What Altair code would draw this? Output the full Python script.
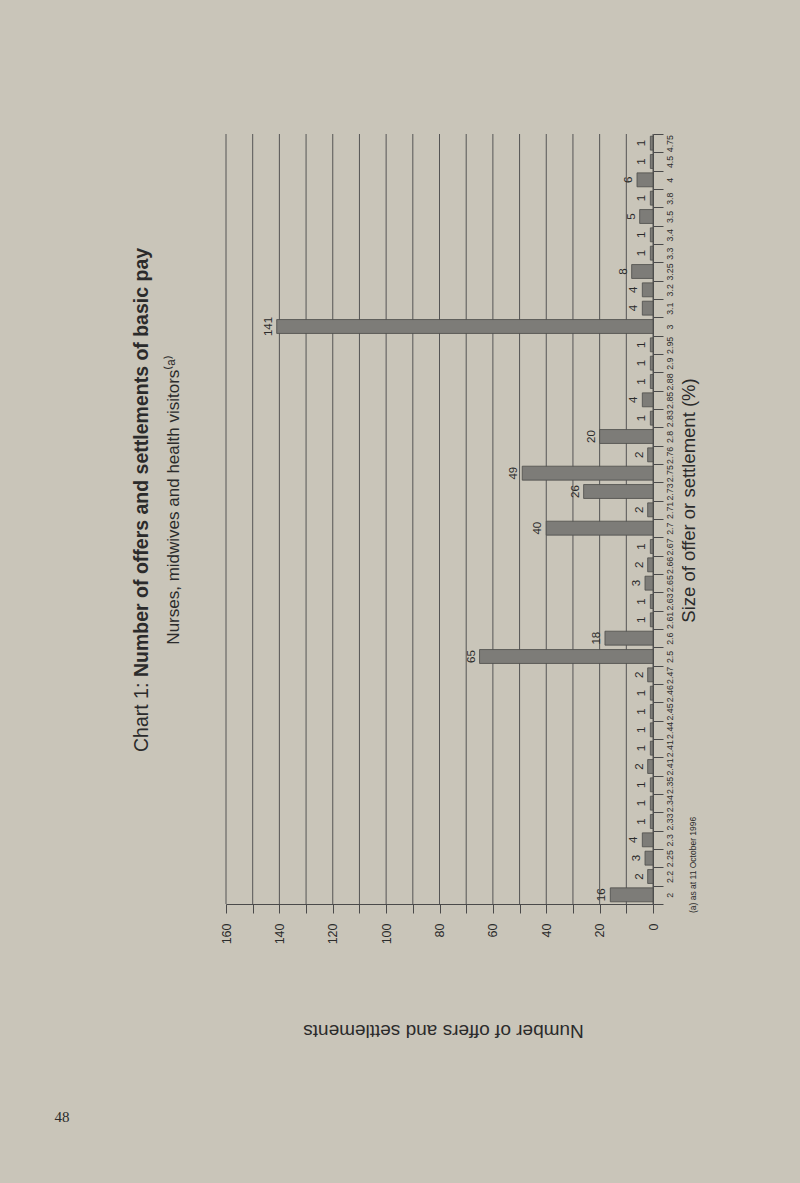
import altair as alt
import pandas as pd

# ---- data ----
categories = ["2", "2.2", "2.25", "2.3", "2.33", "2.34", "2.35", "2.41", "2.41", "2.44",
              "2.45", "2.46", "2.47", "2.5", "2.6", "2.61", "2.63", "2.65", "2.66", "2.67",
              "2.7", "2.71", "2.73", "2.75", "2.76", "2.8", "2.83", "2.85", "2.88", "2.9",
              "2.95", "3", "3.1", "3.2", "3.25", "3.3", "3.4", "3.5", "3.8", "4",
              "4.5", "4.75"]
counts = [16, 2, 3, 4, 1, 1, 1, 2, 1, 1,
          1, 1, 2, 65, 18, 1, 1, 3, 2, 1,
          40, 2, 26, 49, 2, 20, 1, 4, 1, 1,
          1, 141, 4, 4, 8, 1, 1, 5, 1, 6,
          1, 1]
value_ticks = list(range(0, 161, 10))
title_lead = ["Chart 1:"]
title_main = ["Number of offers and settlements of basic pay"]
subtitle = ["Nurses, midwives and health visitors\u207d\u1d43\u207e"]
footnote = ["(a) as at 11 October 1996"]
page_number = ["48"]
x_title = "Number of offers and settlements"
y_title = "Size of offer or settlement (%)"

df = pd.DataFrame({"idx": list(range(len(categories))), "label": categories, "count": counts})
grid_df = pd.DataFrame({"count": value_ticks})

SANS = "Liberation Sans, Arial, sans-serif"
INK = "#2b2b2b"
LINE = "#4a4a4a"
label_expr = "[" + ",".join("'" + c + "'" for c in categories) + "][datum.value]"

W, H = 427, 770

x_scale = alt.Scale(domain=[0, 160], reverse=True, nice=False)
x_axis = alt.Axis(
    orient="bottom", values=value_ticks,
    labelExpr="datum.value % 20 == 0 ? datum.label : ''",
    grid=False,
    tickSize=9, tickColor=LINE, domainColor=LINE,
    labelAngle=270, labelAlign="right", labelBaseline="middle", labelPadding=10,
    labelFont=SANS, labelFontSize=12.5, labelColor=INK,
    title=x_title, titleAngle=180, titleFont=SANS, titleFontSize=19,
    titleFontWeight="normal", titleColor=INK,
    titleX=217, titleY=126, titleAlign="center", titleBaseline="middle",
)
y_axis = alt.Axis(
    orient="right", labelExpr=label_expr, labelOverlap=False,
    tickBand="extent", tickSize=10, tickColor=LINE, domainColor=LINE,
    labelAngle=270, labelAlign="center", labelBaseline="top", labelPadding=2,
    labelFont=SANS, labelFontSize=8.8, labelColor=INK,
    title=y_title, titleAngle=270, titleFont=SANS, titleFontSize=18.5,
    titleFontWeight="normal", titleColor=INK,
    titleX=35, titleY=366, titleAlign="center", titleBaseline="middle",
    grid=False,
)
x_enc = alt.X("count:Q", scale=x_scale, axis=x_axis)
y_enc = alt.Y("idx:O", sort="descending",
              scale=alt.Scale(paddingInner=0, paddingOuter=0), axis=y_axis)

grid = alt.Chart(grid_df).mark_rule(color="#555555", strokeWidth=1).encode(
    x=x_enc, y=alt.value(0), y2=alt.value(H)
)
base = alt.Chart(df)
bars = base.mark_bar(
    height=alt.RelativeBandSize(0.76), color="#7d7c78", stroke="#4c4c4a", strokeWidth=0.8
).encode(x=x_enc, y=y_enc)
labels = base.mark_text(
    angle=270, align="center", baseline="bottom", dy=-3,
    font=SANS, fontSize=11.5, color=INK
).encode(x=x_enc, y=y_enc, text="count:Q")

def note(values, x, y, size, align, weight="normal", font=SANS, angle=270, baseline="alphabetic"):
    return alt.Chart(pd.DataFrame({"t": values})).mark_text(
        angle=angle, align=align, baseline=baseline, font=font, fontSize=size,
        fontWeight=weight, color=INK
    ).encode(text="t:N", x=alt.value(x), y=alt.value(y))

t_lead = note(title_lead, -78, 618, 19.5, "left")
t_main = note(title_main, -78, 543, 19.5, "left", weight="bold")
t_sub = note(subtitle, -47, 366, 17, "center")
t_foot = note(footnote, 467, 779, 8.5, "left", baseline="middle")
t_page = note(page_number, -164, 983, 15, "center", font="Liberation Serif, serif",
              angle=0, baseline="middle")

chart = alt.layer(grid, bars, labels, t_lead, t_main, t_sub, t_foot, t_page).properties(
    width=W, height=H,
    padding={"left": 226, "top": 134, "right": 147, "bottom": 279},
    autosize=alt.AutoSizeParams(type="none"),
).configure(background="#c9c5b9").configure_view(strokeWidth=0)

chart.save("out.html", embed_options={"renderer": "svg", "actions": False})
